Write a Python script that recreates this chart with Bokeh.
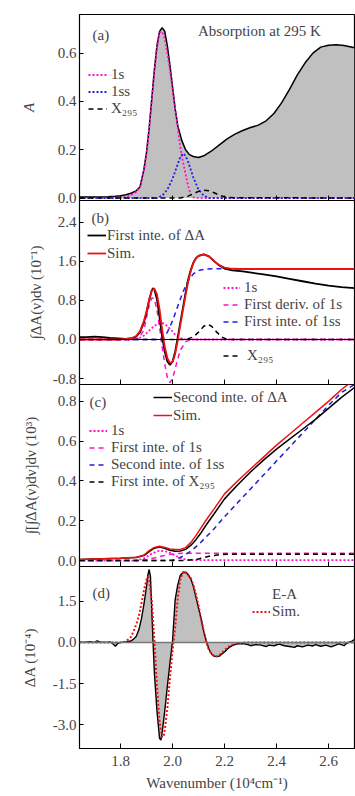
from bokeh.plotting import figure
from bokeh.layouts import column
from bokeh.models import (Range1d, FixedTicker, NumeralTickFormatter, Legend,
                          LegendItem, Label, Span)
from bokeh.embed import file_html
from bokeh.resources import INLINE

# ---------------- data ----------------
# (a) absorption at 295 K and its components
abs_x = [1.642, 1.70, 1.75, 1.78, 1.80, 1.82, 1.84, 1.86, 1.875, 1.89, 1.90, 1.91, 1.92, 1.93,
         1.94, 1.95, 1.96, 1.97, 1.98, 1.99, 2.00, 2.01, 2.02, 2.035, 2.05, 2.065, 2.08, 2.10,
         2.12, 2.15, 2.18, 2.21, 2.24, 2.27, 2.30, 2.33, 2.36, 2.39, 2.42, 2.45, 2.48, 2.51,
         2.54, 2.57, 2.60, 2.63, 2.66, 2.70]
abs_y = [0.005, 0.005, 0.006, 0.008, 0.010, 0.014, 0.020, 0.030, 0.047, 0.12, 0.19, 0.29, 0.41,
         0.53, 0.63, 0.69, 0.705, 0.69, 0.63, 0.55, 0.46, 0.37, 0.30, 0.24, 0.20, 0.18, 0.172,
         0.168, 0.175, 0.195, 0.22, 0.245, 0.265, 0.28, 0.292, 0.302, 0.32, 0.35, 0.395, 0.45,
         0.51, 0.56, 0.60, 0.625, 0.633, 0.635, 0.632, 0.622]

a1s_x = [1.642, 1.80, 1.84, 1.86, 1.875, 1.89, 1.90, 1.91, 1.92, 1.93, 1.94, 1.95, 1.96, 1.97,
         1.98, 1.99, 2.00, 2.01, 2.02, 2.03, 2.04, 2.05, 2.06, 2.07, 2.08, 2.10, 2.70]
a1s_y = [0, 0.002, 0.012, 0.025, 0.045, 0.115, 0.185, 0.285, 0.405, 0.525, 0.625, 0.685, 0.69,
         0.66, 0.60, 0.53, 0.45, 0.37, 0.29, 0.21, 0.15, 0.10, 0.05, 0.015, 0.003, 0, 0]

a1ss_x = [1.642, 1.94, 1.96, 1.98, 2.00, 2.02, 2.03, 2.04, 2.05, 2.06, 2.08, 2.10, 2.12, 2.14, 2.70]
a1ss_y = [0, 0, 0.01, 0.035, 0.08, 0.14, 0.17, 0.185, 0.175, 0.15, 0.085, 0.035, 0.01, 0, 0]

ax295_x = [1.642, 2.03, 2.06, 2.08, 2.10, 2.12, 2.14, 2.16, 2.18, 2.21, 2.70]
ax295_y = [0, 0, 0.008, 0.018, 0.028, 0.033, 0.03, 0.022, 0.012, 0.002, 0]

# (b) first integrals (10^-1)
b_meas_x = [1.642, 1.67, 1.70, 1.73, 1.76, 1.79, 1.82, 1.84, 1.86, 1.875, 1.89, 1.90, 1.91, 1.92,
            1.925, 1.93, 1.94, 1.95, 1.96, 1.97, 1.98, 1.99, 2.00, 2.01, 2.02, 2.03, 2.04, 2.05,
            2.06, 2.07, 2.08, 2.09, 2.10, 2.12, 2.14, 2.16, 2.18, 2.20, 2.23, 2.27, 2.31, 2.35,
            2.40, 2.45, 2.50, 2.55, 2.60, 2.65, 2.70]
b_meas_y = [0.05, 0.05, 0.06, 0.05, 0.03, 0.02, 0.01, 0.02, 0.06, 0.15, 0.35, 0.55, 0.80, 1.00,
            1.05, 1.02, 0.82, 0.45, 0.05, -0.25, -0.45, -0.52, -0.45, -0.25, 0.05, 0.35, 0.65,
            0.95, 1.22, 1.42, 1.57, 1.66, 1.71, 1.74, 1.70, 1.60, 1.51, 1.45, 1.41, 1.39, 1.36,
            1.33, 1.29, 1.24, 1.19, 1.14, 1.10, 1.07, 1.05]

b_sim_x = [1.642, 1.80, 1.84, 1.86, 1.875, 1.89, 1.90, 1.91, 1.92, 1.93, 1.94, 1.95, 1.96, 1.97,
           1.98, 1.99, 2.00, 2.01, 2.02, 2.03, 2.04, 2.05, 2.06, 2.07, 2.08, 2.09, 2.10, 2.12,
           2.14, 2.16, 2.18, 2.20, 2.23, 2.26, 2.70]
b_sim_y = [0, 0, 0.02, 0.07, 0.17, 0.38, 0.58, 0.82, 1.00, 1.04, 0.92, 0.62, 0.20, -0.15, -0.38,
           -0.48, -0.46, -0.30, -0.02, 0.30, 0.60, 0.90, 1.18, 1.40, 1.56, 1.66, 1.71, 1.74,
           1.70, 1.60, 1.52, 1.47, 1.445, 1.44, 1.44]

b1s_x = [1.642, 1.85, 1.87, 1.89, 1.91, 1.93, 1.95, 1.96, 1.97, 1.99, 2.01, 2.03, 2.05, 2.70]
b1s_y = [0, 0, 0.02, 0.08, 0.18, 0.28, 0.33, 0.34, 0.32, 0.22, 0.10, 0.03, 0, 0]

bderiv_x = [1.642, 1.85, 1.87, 1.89, 1.90, 1.91, 1.92, 1.93, 1.94, 1.95, 1.96, 1.97, 1.98, 1.99,
            2.00, 2.01, 2.02, 2.03, 2.05, 2.07, 2.70]
bderiv_y = [0, 0, 0.03, 0.20, 0.45, 0.70, 0.85, 0.83, 0.60, 0.25, -0.15, -0.50, -0.78, -0.88,
            -0.80, -0.60, -0.40, -0.22, -0.05, 0, 0]

b1ss_x = [1.642, 1.96, 1.98, 2.00, 2.02, 2.04, 2.06, 2.08, 2.10, 2.13, 2.16, 2.70]
b1ss_y = [0, 0, 0.15, 0.38, 0.68, 0.97, 1.20, 1.34, 1.41, 1.44, 1.445, 1.445]

bx295_x = [1.642, 2.05, 2.08, 2.10, 2.12, 2.135, 2.15, 2.17, 2.19, 2.21, 2.70]
bx295_y = [0, 0, 0.05, 0.15, 0.27, 0.31, 0.27, 0.15, 0.05, 0, 0]

# (c) second integrals (10^3)
c_x = [1.642, 1.70, 1.80, 1.86, 1.89, 1.91, 1.93, 1.95, 1.97, 1.99, 2.01, 2.03, 2.05, 2.07, 2.09,
       2.11, 2.13, 2.16, 2.20, 2.25, 2.30, 2.35, 2.40, 2.45, 2.50, 2.55, 2.60, 2.65, 2.70]
c_meas_y = [0.005, 0.008, 0.012, 0.015, 0.025, 0.045, 0.062, 0.068, 0.062, 0.052, 0.047, 0.048,
            0.056, 0.076, 0.105, 0.14, 0.18, 0.235, 0.31, 0.38, 0.445, 0.505, 0.56, 0.61, 0.66,
            0.71, 0.765, 0.82, 0.87]
c_sim_y = [0.005, 0.008, 0.012, 0.016, 0.028, 0.05, 0.066, 0.072, 0.066, 0.058, 0.055, 0.056,
           0.065, 0.09, 0.125, 0.165, 0.205, 0.26, 0.335, 0.40, 0.46, 0.52, 0.58, 0.635, 0.69,
           0.745, 0.80, 0.86, 0.91]

c1ss_x = [1.642, 1.98, 2.00, 2.02, 2.04, 2.06, 2.08, 2.10, 2.13, 2.16, 2.20, 2.25, 2.30, 2.35,
          2.40, 2.45, 2.50, 2.55, 2.60, 2.65, 2.70]
c1ss_y = [0, 0, 0.003, 0.01, 0.022, 0.038, 0.058, 0.08, 0.12, 0.16, 0.22, 0.29, 0.36, 0.43,
          0.50, 0.57, 0.64, 0.71, 0.78, 0.845, 0.885]

c1s_x = [1.642, 1.86, 1.89, 1.92, 1.95, 1.98, 2.01, 2.04, 2.07, 2.70]
c1s_y = [0, 0, 0.01, 0.035, 0.05, 0.045, 0.025, 0.008, 0.002, 0.002]

cint1s_x = [1.642, 1.87, 1.90, 1.93, 1.96, 1.99, 2.02, 2.05, 2.08, 2.70]
cint1s_y = [0, 0, 0.005, 0.013, 0.023, 0.031, 0.035, 0.037, 0.037, 0.037]

cx295_x = [1.642, 2.05, 2.09, 2.12, 2.15, 2.18, 2.21, 2.70]
cx295_y = [0, 0, 0.005, 0.015, 0.024, 0.029, 0.031, 0.031]

# (d) E-A difference spectrum (10^-4)
ea_x = [1.642, 1.66, 1.68, 1.70, 1.71, 1.72, 1.74, 1.76, 1.77, 1.78, 1.79, 1.80, 1.82, 1.84,
        1.85, 1.86, 1.87, 1.88, 1.89, 1.90, 1.905, 1.91, 1.915, 1.92, 1.925, 1.93, 1.94, 1.95,
        1.955, 1.96, 1.97, 1.98, 1.99, 2.00, 2.01, 2.02, 2.03, 2.04, 2.05, 2.06, 2.07, 2.08,
        2.09, 2.10, 2.11, 2.12, 2.13, 2.14, 2.15, 2.16, 2.17, 2.18, 2.19, 2.20, 2.21, 2.22,
        2.23, 2.24, 2.25, 2.27, 2.29, 2.30, 2.32, 2.34, 2.36, 2.37, 2.39, 2.41, 2.43, 2.45,
        2.47, 2.48, 2.50, 2.52, 2.54, 2.55, 2.57, 2.59, 2.61, 2.63, 2.64, 2.66, 2.67, 2.69, 2.70]
ea_y = [0.02, 0.0, 0.03, 0.0, 0.06, 0.02, 0.0, 0.02, -0.05, -0.14, -0.03, 0.0, 0.02, 0.05,
        0.12, 0.22, 0.45, 0.85, 1.40, 2.05, 2.45, 2.66, 2.40, 1.20, 0.0, -1.10, -2.50, -3.50,
        -3.56, -3.30, -2.50, -1.60, -0.75, 0.05, 1.55, 2.10, 2.45, 2.55, 2.56, 2.48, 2.32, 2.05,
        1.65, 1.25, 0.85, 0.40, 0.05, -0.25, -0.42, -0.50, -0.52, -0.50, -0.42, -0.35, -0.25,
        -0.17, -0.12, -0.08, -0.05, -0.04, -0.08, -0.12, -0.08, -0.10, -0.15, -0.10, -0.12,
        -0.06, -0.12, -0.15, -0.18, -0.12, -0.16, -0.10, -0.13, -0.08, -0.14, -0.10, -0.16,
        -0.09, -0.05, -0.12, -0.03, 0.05, 0.10]

dsim_x = [1.642, 1.80, 1.82, 1.84, 1.85, 1.86, 1.87, 1.88, 1.89, 1.90, 1.905, 1.91, 1.92, 1.93,
          1.94, 1.95, 1.96, 1.965, 1.97, 1.98, 1.99, 2.00, 2.01, 2.02, 2.03, 2.04, 2.045, 2.05,
          2.06, 2.07, 2.08, 2.09, 2.10, 2.11, 2.12, 2.13, 2.14, 2.15, 2.16, 2.17, 2.18, 2.19,
          2.20, 2.22, 2.24, 2.27, 2.30, 2.70]
dsim_y = [0, 0, 0.03, 0.20, 0.40, 0.65, 0.95, 1.40, 1.90, 2.30, 2.40, 2.30, 1.50, 0.10, -1.60,
          -2.90, -3.45, -3.45, -3.20, -2.40, -1.30, -0.30, 0.55, 1.60, 2.30, 2.55, 2.60, 2.58,
          2.45, 2.35, 2.10, 1.75, 1.35, 0.85, 0.40, 0.0, -0.28, -0.42, -0.50, -0.50, -0.46,
          -0.38, -0.28, -0.12, -0.05, -0.01, 0, 0]

x_ticks = [1.8, 2.0, 2.2, 2.4, 2.6]
ticks_a = [0.0, 0.2, 0.4, 0.6]
ticks_b = [-0.8, 0.0, 0.8, 1.6, 2.4]
ticks_c = [0.0, 0.2, 0.4, 0.6, 0.8]
ticks_d = [-3.0, -1.5, 0.0, 1.5]

# ---------------- styling ----------------
FONT = "'Liberation Serif', serif"
FS = "15px"
GRAY = "#c0c0c0"
MAG = "#ff10d0"
BLUE = "#1e1eee"
NAVY = "#2020c8"
RED = "#ee1111"
DOT = "2 2"
DASH = "5 4"
PAD = 6          # spare canvas rows above/below each frame, overlapped by neighbours

x_range = Range1d(1.642, 2.70)


def make_panel(frame_h, y0, y1, yticks, ylabel, ylabel_standoff, top=PAD, bottom=PAD,
               show_x_labels=False, italic=False, overlap=True):
    p = figure(width=355, height=top + frame_h + bottom, x_range=x_range,
               y_range=Range1d(y0, y1), output_backend="svg", toolbar_location=None,
               min_border_left=79, min_border_right=1, min_border_top=top,
               min_border_bottom=bottom)
    p.grid.visible = False
    p.background_fill_color = "white"
    p.border_fill_alpha = 0
    p.outline_line_color = "black"
    p.outline_line_width = 1.2
    p.outline_line_alpha = 1.0
    if overlap:
        p.margin = (-2 * PAD, 0, 0, 0)

    ya = p.yaxis[0]
    ya.ticker = FixedTicker(ticks=yticks)
    ya.formatter = NumeralTickFormatter(format="0.0")
    ya.major_tick_in = 4
    ya.major_tick_out = 0
    ya.minor_tick_line_color = None
    ya.major_label_text_font = FONT
    ya.major_label_text_font_size = FS
    ya.major_label_standoff = 3
    ya.axis_label = ylabel
    ya.axis_label_text_font = FONT
    ya.axis_label_text_font_size = FS
    ya.axis_label_text_font_style = "italic" if italic else "normal"
    ya.axis_label_standoff = ylabel_standoff
    ya.axis_line_color = "black"

    xa = p.xaxis[0]
    xa.ticker = FixedTicker(ticks=x_ticks)
    xa.formatter = NumeralTickFormatter(format="0.0")
    xa.major_tick_in = 5
    xa.major_tick_out = 0
    xa.minor_tick_line_color = None
    xa.axis_line_color = "black"
    if show_x_labels:
        xa.major_label_text_font = FONT
        xa.major_label_text_font_size = FS
        xa.major_label_standoff = 7
        xa.axis_label = "Wavenumber (10\u2074cm\u207b\u00b9)"
        xa.axis_label_text_font = FONT
        xa.axis_label_text_font_size = FS
        xa.axis_label_text_font_style = "normal"
        xa.axis_label_standoff = 6
    else:
        # tick marks only along the shared border
        xa.major_label_text_font_size = "0px"
        xa.major_label_text_color = None
        xa.major_label_standoff = 0
        xa.axis_line_color = None
    return p


def add_legend(p, items, loc, glyph_w, standoff, item_h=17, glyph_h=None):
    leg = Legend(items=items, location=loc, padding=0, margin=0, spacing=0,
                 border_line_color=None, background_fill_alpha=0,
                 glyph_width=glyph_w, glyph_height=glyph_h or item_h,
                 label_height=item_h, label_standoff=standoff,
                 label_text_font=FONT, label_text_font_size=FS)
    p.add_layout(leg, "center")
    return leg


def panel_tag(p, text, sx, sy):
    p.add_layout(Label(x=sx, y=sy, x_units="screen", y_units="screen", text=text,
                       text_font=FONT, text_font_size=FS, text_baseline="middle"))


# ---------------- (a) ----------------
pa = make_panel(186, -0.01, 0.76, ticks_a, "A", 18, top=14, italic=True, overlap=False)
pa.border_fill_alpha = 1
pa.varea(x=abs_x, y1=0, y2=abs_y, fill_color=GRAY)
pa.line(abs_x, abs_y, line_color="black", line_width=1.5)
ra_1s = pa.line(a1s_x, a1s_y, line_color=MAG, line_width=1.8, line_dash=DOT)
ra_1ss = pa.line(a1ss_x, a1ss_y, line_color=BLUE, line_width=1.8, line_dash=DOT)
ra_x = pa.line(ax295_x, ax295_y, line_color="black", line_width=1.5, line_dash=DASH)
ra_box = pa.quad(left=[], right=[], top=[], bottom=[], fill_color=GRAY, line_color="black",
                 line_width=1.2)
add_legend(pa, [LegendItem(label="Absorption at 295 K", renderers=[ra_box])], (103, 160), 11, 5,
           glyph_h=8)
add_legend(pa, [LegendItem(label="1s", renderers=[ra_1s]),
                LegendItem(label="1ss", renderers=[ra_1ss]),
                LegendItem(label="X\u2082\u2089\u2085", renderers=[ra_x])], (9, 83), 19, 4)
panel_tag(pa, "(a)", 13, 166)

# ---------------- (b) ----------------
pb = make_panel(184, -0.92, 2.84, ticks_b, "\u222b\u0394A(\u03bd)d\u03bd (10\u207b\u00b9)", 6)
pb.add_layout(Span(location=0, dimension="width", line_color="black", line_width=1.2))
rb_1s = pb.line(b1s_x, b1s_y, line_color=MAG, line_width=1.8, line_dash=DOT)
rb_d = pb.line(bderiv_x, bderiv_y, line_color=MAG, line_width=1.5, line_dash=DASH)
rb_ss = pb.line(b1ss_x, b1ss_y, line_color=BLUE, line_width=1.5, line_dash=DASH)
rb_x = pb.line(bx295_x, bx295_y, line_color="black", line_width=1.5, line_dash=DASH)
rb_m = pb.line(b_meas_x, b_meas_y, line_color="black", line_width=1.8)
rb_s = pb.line(b_sim_x, b_sim_y, line_color=RED, line_width=1.8)
add_legend(pb, [LegendItem(label="First inte. of \u0394A", renderers=[rb_m]),
                LegendItem(label="Sim.", renderers=[rb_s])], (8, 122), 19, 1, item_h=18)
add_legend(pb, [LegendItem(label="1s", renderers=[rb_1s]),
                LegendItem(label="First deriv. of 1s", renderers=[rb_d]),
                LegendItem(label="First inte. of 1ss", renderers=[rb_ss])], (144, 54), 17, 4)
add_legend(pb, [LegendItem(label="X\u2082\u2089\u2085", renderers=[rb_x])], (144, 20), 15, 9)
panel_tag(pb, "(b)", 12, 167)

# ---------------- (c) ----------------
pc = make_panel(182, -0.03, 0.885, ticks_c,
                "\u222b[\u222b\u0394A(\u03bd)d\u03bd]d\u03bd (10\u00b3)", 16)
rc_1s = pc.line(c1s_x, c1s_y, line_color=MAG, line_width=1.8, line_dash=DOT)
rc_i1s = pc.line(cint1s_x, cint1s_y, line_color=MAG, line_width=1.5, line_dash=DASH)
rc_ss = pc.line(c1ss_x, c1ss_y, line_color=NAVY, line_width=1.5, line_dash=DASH)
rc_x = pc.line(cx295_x, cx295_y, line_color="black", line_width=1.5, line_dash=DASH)
rc_m = pc.line(c_x, c_meas_y, line_color="black", line_width=1.5)
rc_s = pc.line(c_x, c_sim_y, line_color=RED, line_width=1.5)
add_legend(pc, [LegendItem(label="Second inte. of \u0394A", renderers=[rc_m]),
                LegendItem(label="Sim.", renderers=[rc_s])], (74, 142), 19, 1, item_h=18)
add_legend(pc, [LegendItem(label="1s", renderers=[rc_1s]),
                LegendItem(label="First inte. of 1s", renderers=[rc_i1s]),
                LegendItem(label="Second inte. of 1ss", renderers=[rc_ss]),
                LegendItem(label="First inte. of X\u2082\u2089\u2085", renderers=[rc_x])],
           (10, 76), 18, 4)
panel_tag(pc, "(c)", 10, 165)

# ---------------- (d) ----------------
pd = make_panel(182, -3.87, 2.77, ticks_d, "\u0394A (10\u207b\u2074)", 12, bottom=48,
                show_x_labels=True)
pd.varea(x=ea_x, y1=0, y2=ea_y, fill_color=GRAY)
pd.add_layout(Span(location=0, dimension="width", line_color="#777777", line_width=1.5))
pd.line(ea_x, ea_y, line_color="black", line_width=1.4)
rd_s = pd.line(dsim_x, dsim_y, line_color=RED, line_width=2, line_dash=DOT)
rd_box = pd.quad(left=[], right=[], top=[], bottom=[], fill_color=GRAY, line_color="black",
                 line_width=1.2)
add_legend(pd, [LegendItem(label="E-A", renderers=[rd_box])], (177, 145), 10, 6, glyph_h=8)
add_legend(pd, [LegendItem(label="Sim.", renderers=[rd_s])], (173, 128), 18, 2)
panel_tag(pd, "(d)", 13, 156)

layout = column(pa, pb, pc, pd, spacing=0)
open("out.html", "w").write(file_html(layout, INLINE))
